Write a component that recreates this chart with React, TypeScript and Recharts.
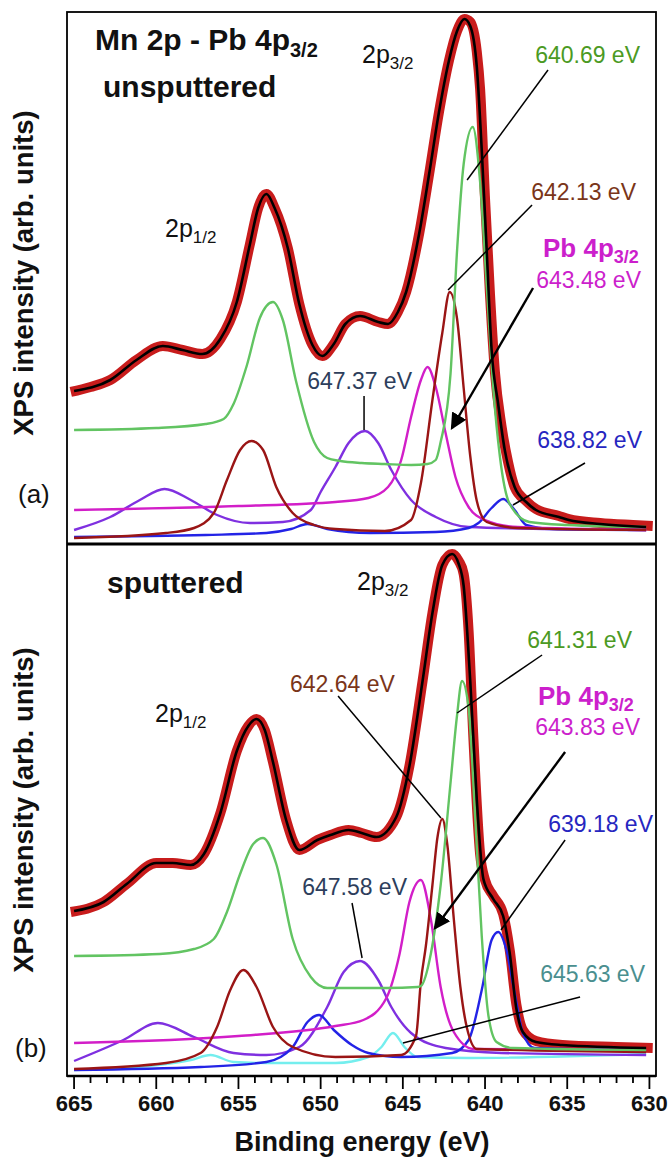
import React from 'react'
import { LineChart, Line, XAxis, YAxis, ReferenceLine } from 'recharts'

// binding energy (eV) vs intensity (arb. units)
// panel (a) unsputtered
const topExp: [number, number][] = [
  [665.2, 152], [664, 157], [662.8, 164], [661.2, 184], [659.6, 198], [658.4, 194], [657.2, 190],
  [656.1, 205], [655.1, 242], [654.3, 300], [653.8, 336], [653.3, 350], [652.8, 336], [652.0, 296],
  [651.3, 240], [650.5, 199], [649.9, 188], [649.2, 200], [648.5, 220], [647.6, 228], [646.5, 222],
  [645.9, 220], [645.3, 232], [644.8, 252], [644.0, 311], [643.4, 370], [642.8, 432], [642.2, 483],
  [641.7, 513], [641.25, 525], [640.9, 522], [640.5, 492], [640.3, 455], [640.0, 345], [639.7, 250],
  [639.4, 172], [639.0, 118], [638.6, 82], [638.2, 57], [637.5, 43], [636.9, 35], [635.5, 28],
  [634.9, 25], [633, 21], [631, 19], [629.8, 18],
]
const topFit: [number, number][] = [
  [665.0, 153], [662.8, 164], [661.2, 184], [659.6, 198], [658.4, 194], [657.2, 190], [656.1, 205],
  [655.1, 242], [654.3, 300], [653.8, 336], [653.3, 350], [652.8, 336], [652.0, 296], [651.3, 240],
  [650.5, 199], [649.9, 188], [649.2, 200], [648.5, 220], [647.6, 228], [646.5, 222], [645.9, 220],
  [645.3, 232], [644.8, 252], [644.0, 311], [643.4, 370], [642.8, 432], [642.2, 483], [641.7, 513],
  [641.25, 525], [640.9, 518], [640.5, 477], [640.2, 394], [639.9, 294], [639.6, 194], [639.2, 140],
  [638.8, 94], [638.2, 57], [637.5, 42], [636.9, 34], [635.5, 27], [634.9, 24], [633, 20], [630.2, 17],
]
const topGreen: [number, number][] = [
  [665.0, 114], [660.0, 116], [657.0, 120], [655.9, 125], [655.3, 140], [654.5, 178], [653.7, 226],
  [652.9, 242], [652.3, 224], [651.5, 163], [650.4, 102], [649.6, 86], [648.8, 83], [647.5, 81],
  [646.1, 80], [644.5, 79], [643.5, 80], [643.0, 84], [642.7, 102], [642.1, 170], [641.7, 294],
  [641.3, 380], [640.75, 417], [640.3, 362], [639.9, 259], [639.5, 156], [639.1, 88], [638.5, 40],
  [637.3, 22], [635, 19], [630.2, 17],
]
const topDarkRed: [number, number][] = [
  [665.0, 6], [659.4, 11], [657.7, 16], [656.5, 31], [655.7, 64], [654.9, 94], [654.2, 103],
  [653.5, 94], [652.7, 57], [651.7, 31], [650.4, 19], [649.1, 15], [646.1, 13], [644.5, 24],
  [643.9, 61], [643.2, 144], [642.6, 211], [642.15, 252], [641.7, 225], [641.3, 156], [640.9, 88],
  [640.5, 43], [639.9, 22], [638, 16], [630.2, 14],
]
const topMagenta: [number, number][] = [
  [665.0, 34], [655, 38], [649.1, 42], [647.1, 46], [645.9, 57], [645.1, 84], [644.5, 127],
  [643.9, 164], [643.5, 177], [643.0, 157], [642.4, 111], [641.8, 67], [641.0, 37], [640.0, 24],
  [638.0, 17], [630.2, 14],
]
const topPurple: [number, number][] = [
  [665.0, 14], [662.8, 27], [661.0, 44], [659.5, 55], [657.9, 44], [656.3, 29], [654.3, 21],
  [652.3, 22], [650.6, 34], [650.0, 52], [649.1, 77], [648.3, 101], [647.3, 113], [646.5, 101],
  [645.7, 74], [644.5, 44], [643.0, 27], [641.0, 17], [636, 15], [630.2, 14],
]
const topBlue: [number, number][] = [
  [665.0, 7], [657.0, 9], [653.3, 11], [651.8, 15], [650.8, 20], [649.6, 15], [647.0, 11],
  [643.0, 12], [641.0, 16], [640.4, 21], [639.6, 36], [638.9, 45], [638.2, 34], [637.5, 19],
  [636.0, 15], [630.2, 14],
]

// panel (b) sputtered
const botExp: [number, number][] = [
  [665.2, 164], [663.2, 174], [661.8, 192], [660.0, 213], [659.0, 213], [657.9, 211], [657.1, 222],
  [656.1, 263], [655.1, 325], [654.4, 350], [653.9, 357], [653.4, 346], [652.9, 314], [652.1, 256],
  [651.3, 226], [650.2, 236], [649.4, 241], [648.3, 246], [647.5, 243], [646.6, 239], [645.4, 259],
  [644.6, 310], [643.8, 395], [643.2, 463], [642.6, 511], [642.0, 522], [641.6, 515], [641.3, 502],
  [641.0, 445], [640.7, 335], [640.3, 222], [640.0, 196], [639.5, 180], [638.9, 162], [638.5, 126],
  [638.1, 72], [637.7, 46], [636.9, 35], [635.3, 31], [632, 29], [629.8, 28],
]
const botFit: [number, number][] = [
  [665.0, 165], [663.2, 174], [661.8, 192], [660.0, 213], [659.0, 213], [657.9, 211], [657.1, 222],
  [656.1, 263], [655.1, 325], [654.4, 350], [653.9, 357], [653.4, 346], [652.9, 314], [652.1, 256],
  [651.3, 226], [650.2, 236], [649.4, 241], [648.3, 246], [647.5, 243], [646.6, 239], [645.4, 259],
  [644.6, 310], [643.8, 395], [643.2, 463], [642.6, 511], [642.0, 522], [641.6, 512], [641.3, 490],
  [640.9, 395], [640.5, 276], [640.1, 197], [639.5, 177], [638.9, 160], [638.5, 123], [638.1, 68],
  [637.7, 44], [636.9, 34], [635.3, 31], [630.2, 28],
]
const botGreen: [number, number][] = [
  [665.0, 120], [659.8, 122], [657.7, 127], [656.5, 137], [655.7, 164], [654.9, 202], [654.1, 232],
  [653.5, 238], [652.7, 212], [651.7, 137], [650.6, 99], [649.6, 88], [648.8, 88], [646.0, 88],
  [644.1, 89], [643.9, 90], [643.3, 122], [642.7, 191], [642.1, 293], [641.7, 361], [641.4, 395],
  [641.0, 368], [640.6, 259], [640.2, 140], [639.8, 61], [639.3, 34], [638.3, 28], [630.2, 26],
]
const botDarkRed: [number, number][] = [
  [665.0, 7], [659.4, 13], [657.3, 23], [656.3, 49], [655.5, 86], [654.7, 106], [653.9, 89],
  [652.9, 49], [651.7, 29], [649.1, 19], [645.1, 21], [644.2, 40], [643.9, 95], [643.6, 130],
  [643.2, 191], [642.9, 238], [642.6, 257], [642.3, 232], [641.9, 157], [641.5, 89], [641.1, 48],
  [640.5, 27], [630.2, 24],
]
const botMagenta: [number, number][] = [
  [665.0, 33], [655, 40], [649.1, 50], [647.4, 56], [646.0, 78], [645.2, 122], [644.6, 174],
  [643.9, 196], [643.3, 157], [642.7, 89], [641.9, 44], [640.7, 27], [630.2, 26],
]
const botPurple: [number, number][] = [
  [665.0, 15], [662.0, 36], [659.9, 53], [657.7, 39], [655.3, 23], [653.3, 21], [651.3, 29],
  [649.6, 69], [648.6, 104], [647.6, 115], [646.5, 96], [645.7, 69], [644.5, 43], [642.4, 28],
  [639.0, 23], [630.2, 21],
]
const botBlue: [number, number][] = [
  [665.0, 6], [657.3, 9], [653.3, 14], [651.7, 29], [650.8, 54], [650.1, 61], [649.2, 46],
  [648.1, 31], [647.1, 23], [645.1, 19], [642.0, 23], [641.0, 36], [640.2, 86], [639.6, 136],
  [639.2, 144], [638.7, 126], [638.2, 83], [637.7, 43], [637.0, 28], [630.2, 26],
]
const botCyan: [number, number][] = [
  [665.0, 6], [659.4, 12], [657.9, 16], [656.7, 21], [655.3, 14], [653.3, 13], [649.1, 13],
  [647.1, 19], [646.3, 29], [645.6, 43], [644.9, 29], [644.1, 19], [641.0, 18], [630.2, 22],
]

const xTicks = [
  630, 631, 632, 633, 634, 635, 636, 637, 638, 639, 640, 641, 642, 643, 644, 645, 646, 647, 648,
  649, 650, 651, 652, 653, 654, 655, 656, 657, 658, 659, 660, 661, 662, 663, 664, 665,
]

const FONT = '"Liberation Sans", Arial, Helvetica, sans-serif'
const X_DOMAIN: [number, number] = [629.6, 665.43]
const Y_DOMAIN: [number, number] = [0, 532]

const C = {
  exp: '#c81c1c',
  fit: '#000000',
  green: '#62c462',
  darkRed: '#9a1515',
  magenta: '#d21ec8',
  purple: '#7f30e0',
  blue: '#2323e6',
  cyan: '#74eeee',
}

const pts = (arr: [number, number][]) => arr.map(([x, y]) => ({ x, y }))

const series = (key: string, arr: [number, number][], color: string, width = 2.4) => (
  <Line
    key={key}
    data={pts(arr)}
    dataKey="y"
    type="monotone"
    stroke={color}
    strokeWidth={width}
    dot={false}
    isAnimationActive={false}
  />
)

const seg = (a: [number, number], b: [number, number], arrow = false) => (
  <ReferenceLine
    segment={[{ x: a[0], y: a[1] }, { x: b[0], y: b[1] }]}
    ifOverflow="visible"
    shape={(p: any) => (
      <line
        x1={p.x1}
        y1={p.y1}
        x2={p.x2}
        y2={p.y2}
        stroke="#000"
        strokeWidth={arrow ? 2.4 : 1.5}
        markerEnd={arrow ? 'url(#arrowHead)' : undefined}
      />
    )}
  />
)

const Tick = (props: any) => {
  const { x, y, payload } = props
  const major = payload.value % 5 === 0
  return (
    <g>
      <line x1={x} x2={x} y1={y} y2={y + (major ? 13 : 7)} stroke="#000" strokeWidth={1.8} />
      {major && (
        <text x={x} y={y + 35} textAnchor="middle" fontFamily={FONT} fontWeight="bold" fontSize={22} fill="#111">
          {payload.value}
        </text>
      )}
    </g>
  )
}

const Label = ({ x, y, color, children, size = 23, bold = false, anchor = 'start' }: any) => (
  <text x={x} y={y} fill={color} fontSize={size} fontWeight={bold ? 'bold' : 'normal'} fontFamily={FONT} textAnchor={anchor}>
    {children}
  </text>
)

const Sub = ({ children, size = 16, dy = 6 }: any) => (
  <tspan fontSize={size} dy={dy}>{children}</tspan>
)

export default function App() {
  return (
    <div style={{ position: 'absolute', left: 0, top: 0, width: 670, height: 1157, background: '#fff', fontFamily: FONT }}>
      <svg width={0} height={0} style={{ position: 'absolute' }}>
        <defs>
          <marker id="arrowHead" markerWidth="8" markerHeight="8" refX="6" refY="4" orient="auto" markerUnits="strokeWidth">
            <path d="M0,0.6 L7,4 L0,7.4 Z" fill="#000" />
          </marker>
        </defs>
      </svg>

      <div style={{ position: 'absolute', left: 0, top: 0 }}>
        <LineChart width={670} height={560} margin={{ top: 12, right: 14, bottom: 16, left: 67 }}>
          <XAxis dataKey="x" type="number" domain={X_DOMAIN} reversed hide allowDataOverflow />
          <YAxis type="number" domain={Y_DOMAIN} hide allowDataOverflow />
          {series('exp', topExp, C.exp, 10)}
          {series('purple', topPurple, C.purple)}
          {series('blue', topBlue, C.blue)}
          {series('magenta', topMagenta, C.magenta)}
          {series('darkRed', topDarkRed, C.darkRed)}
          {series('green', topGreen, C.green)}
          {series('fit', topFit, C.fit, 2.6)}
          {seg([636.17, 474], [641.09, 364])}
          {seg([637.14, 339], [642.25, 254])}
          {seg([637.08, 256], [642.01, 116], true)}
          {seg([647.36, 148], [647.36, 114])}
          {seg([633.92, 81], [638.3, 39])}
        </LineChart>
      </div>

      <div style={{ position: 'absolute', left: 0, top: 544 }}>
        <LineChart width={670} height={613} margin={{ top: 0, right: 14, bottom: 0, left: 67 }}>
          <XAxis
            dataKey="x"
            type="number"
            domain={X_DOMAIN}
            reversed
            allowDataOverflow
            ticks={xTicks}
            interval={0}
            height={81}
            tickSize={0}
            tickMargin={0}
            tickLine={false}
            tick={<Tick />}
            axisLine={{ stroke: '#000', strokeWidth: 2.5 }}
          />
          <YAxis type="number" domain={Y_DOMAIN} hide allowDataOverflow />
          {series('exp', botExp, C.exp, 10)}
          {series('cyan', botCyan, C.cyan)}
          {series('purple', botPurple, C.purple)}
          {series('blue', botBlue, C.blue)}
          {series('magenta', botMagenta, C.magenta)}
          {series('darkRed', botDarkRed, C.darkRed)}
          {series('green', botGreen, C.green)}
          {series('fit', botFit, C.fit, 2.6)}
          {seg([636.53, 421], [641.7, 363])}
          {seg([648.94, 380], [642.68, 258])}
          {seg([635.13, 324], [643.04, 148], true)}
          {seg([635.13, 236], [639.03, 146])}
          {seg([648.09, 173], [647.48, 118])}
          {seg([634.22, 79], [644.99, 33])}
        </LineChart>
      </div>

      <svg width={670} height={1157} style={{ position: 'absolute', left: 0, top: 0, pointerEvents: 'none' }}>
        <rect x={67} y={12} width={589} height={1064} fill="none" stroke="#000" strokeWidth={1.8} />
        <line x1={67} x2={656} y1={544} y2={544} stroke="#000" strokeWidth={3} />

        {/* panel (a) */}
        <Label x={95} y={50} color="#111" size={30} bold>
          Mn 2p - Pb 4p<Sub size={20} dy={7}>3/2</Sub>
        </Label>
        <Label x={103} y={97} color="#111" size={30} bold>unsputtered</Label>
        <Label x={362} y={63} color="#111" size={25}>2p<Sub size={17} dy={6}>3/2</Sub></Label>
        <Label x={165} y={237} color="#111" size={25}>2p<Sub size={17} dy={6}>1/2</Sub></Label>
        <Label x={640} y={63} color="#4b9a23" anchor="end">640.69 eV</Label>
        <Label x={636} y={200} color="#7a3519" anchor="end">642.13 eV</Label>
        <Label x={543} y={257} color="#cc1fcc" size={26} bold>
          Pb 4p<Sub size={18} dy={6}>3/2</Sub>
        </Label>
        <Label x={641} y={288} color="#cc1fcc" anchor="end">643.48 eV</Label>
        <Label x={412} y={389} color="#2d3e5c" anchor="end">647.37 eV</Label>
        <Label x={642} y={448} color="#2626c0" anchor="end">638.82 eV</Label>
        <Label x={18} y={503} color="#111" size={26}>(a)</Label>
        <text transform="translate(33,273) rotate(-90)" textAnchor="middle" fontFamily={FONT} fontWeight="bold" fontSize={27.5} fill="#111">
          XPS intensity (arb. units)
        </text>

        {/* panel (b) */}
        <Label x={107} y={593} color="#111" size={30} bold>sputtered</Label>
        <Label x={357} y={590} color="#111" size={25}>2p<Sub size={17} dy={6}>3/2</Sub></Label>
        <Label x={155} y={722} color="#111" size={25}>2p<Sub size={17} dy={6}>1/2</Sub></Label>
        <Label x={290} y={692} color="#7a3519">642.64 eV</Label>
        <Label x={632} y={648} color="#4b9a23" anchor="end">641.31 eV</Label>
        <Label x={538} y={705} color="#cc1fcc" size={26} bold>
          Pb 4p<Sub size={18} dy={6}>3/2</Sub>
        </Label>
        <Label x={640} y={735} color="#cc1fcc" anchor="end">643.83 eV</Label>
        <Label x={653} y={832} color="#2626c0" anchor="end">639.18 eV</Label>
        <Label x={407} y={895} color="#2d3e5c" anchor="end">647.58 eV</Label>
        <Label x={645} y={982} color="#4a8f8f" anchor="end">645.63 eV</Label>
        <Label x={15} y={1057} color="#111" size={26}>(b)</Label>
        <text transform="translate(33,810) rotate(-90)" textAnchor="middle" fontFamily={FONT} fontWeight="bold" fontSize={27.5} fill="#111">
          XPS intensity (arb. units)
        </text>

        <text x={362} y={1151} textAnchor="middle" fontFamily={FONT} fontWeight="bold" fontSize={27} fill="#111">
          Binding energy (eV)
        </text>
      </svg>
    </div>
  )
}
